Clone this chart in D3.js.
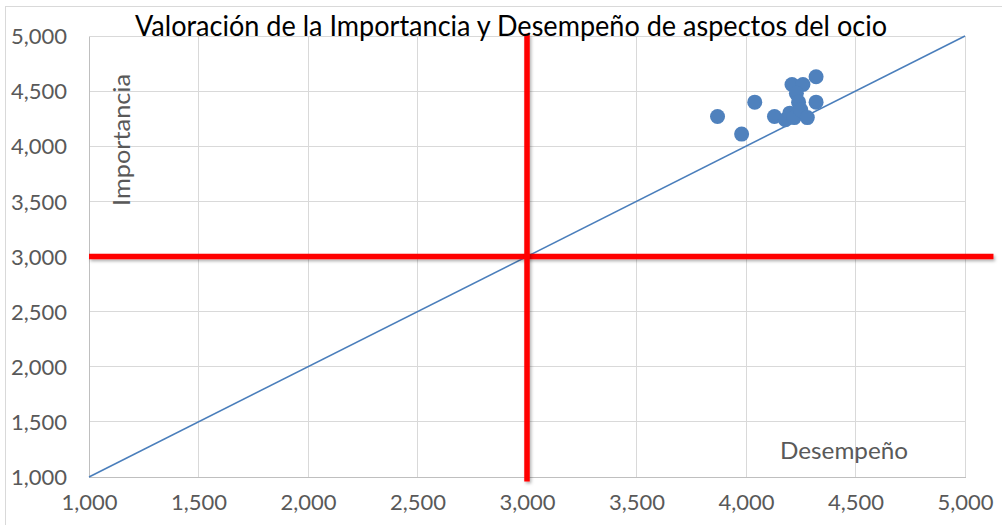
<!DOCTYPE html>
<html lang="es">
<head>
    <meta charset="UTF-8">
    <title>Importancia y Desempeño</title>
    <script src="https://cdn.jsdelivr.net/npm/d3@7"></script>
    <style>
        body { margin: 0; background: #fff; }
        .grid line { stroke: #d9d9d9; stroke-width: 1; shape-rendering: crispEdges; }
        .axis path, .axis line { stroke: #bfbfbf; shape-rendering: crispEdges; }
        .axis text { font-family: Lato, "Open Sans", sans-serif; font-size: 22px; fill: #595959; }
        .lbl { font-family: Lato, "Open Sans", sans-serif; font-size: 24px; fill: #595959; }
    </style>
</head>
<body>
<script>
    var width = 1002, height = 525;
    var svg = d3.select("body").append("svg")
        .attr("width", width)
        .attr("height", height);

    // datos
    var desempeno  = [3.87, 3.98, 4.04, 4.13, 4.18, 4.20, 4.22, 4.21, 4.26, 4.32, 4.23, 4.24, 4.25, 4.28, 4.32];
    var importancia = [4.27, 4.11, 4.40, 4.27, 4.24, 4.30, 4.26, 4.56, 4.56, 4.63, 4.48, 4.40, 4.33, 4.26, 4.40];
    var ticks = [1, 1.5, 2, 2.5, 3, 3.5, 4, 4.5, 5];
    var diagonal = [[1, 1], [5, 5]];
    var lineaV = [[3, 0.96], [3, 5.02]];
    var lineaH = [[1, 3], [5.13, 3]];

    var padding = {left: 89, right: 37, top: 36, bottom: 48};

    var x = d3.scaleLinear().domain([1, 5]).range([padding.left, width - padding.right]);
    var y = d3.scaleLinear().domain([1, 5]).range([height - padding.bottom, padding.top]);
    var fmt = function (d) { return d3.format(".3f")(d).replace(".", ","); };

    // borde del gráfico
    svg.append("rect")
        .attr("x", 5.5).attr("y", 6.5)
        .attr("width", 1010).attr("height", 540)
        .attr("fill", "none").attr("stroke", "#d9d9d9");

    // sombra para las líneas rojas
    var defs = svg.append("defs");
    var f = defs.append("filter").attr("id", "sombra")
        .attr("filterUnits", "userSpaceOnUse")
        .attr("x", 0).attr("y", 0).attr("width", width).attr("height", height);
    f.append("feDropShadow").attr("dx", 1.5).attr("dy", 2).attr("stdDeviation", 1.5)
        .attr("flood-color", "#000").attr("flood-opacity", 0.3);

    // rejilla
    svg.append("g").attr("class", "grid")
        .selectAll("line").data(ticks).enter().append("line")
        .attr("x1", function (d) { return x(d); }).attr("x2", function (d) { return x(d); })
        .attr("y1", y(1)).attr("y2", y(5));
    svg.append("g").attr("class", "grid")
        .selectAll("line").data(ticks).enter().append("line")
        .attr("y1", function (d) { return y(d); }).attr("y2", function (d) { return y(d); })
        .attr("x1", x(1)).attr("x2", x(5));

    // ejes
    var xAxis = d3.axisBottom(x).tickValues(ticks).tickFormat(fmt).tickSize(0).tickPadding(14);
    var yAxis = d3.axisLeft(y).tickValues(ticks).tickFormat(fmt).tickSize(0).tickPadding(22);
    svg.append("g").attr("class", "axis")
        .attr("transform", "translate(0," + y(1) + ")")
        .call(xAxis)
        .selectAll("text").attr("dy", "0.85em");
    svg.append("g").attr("class", "axis")
        .attr("transform", "translate(" + x(1) + ",0)")
        .call(yAxis)
        .selectAll("text").attr("dy", "0.35em");

    var line = d3.line()
        .x(function (d) { return x(d[0]); })
        .y(function (d) { return y(d[1]); });

    // diagonal
    svg.append("path").datum(diagonal)
        .attr("d", line)
        .attr("fill", "none").attr("stroke", "#4a7ebb").attr("stroke-width", 1.5);

    // puntos
    svg.append("g").selectAll("circle")
        .data(desempeno).enter().append("circle")
        .attr("cx", function (d) { return x(d); })
        .attr("cy", function (d, i) { return y(importancia[i]); })
        .attr("r", 7.5)
        .attr("fill", "#4f81bd");

    // líneas rojas
    [lineaH, lineaV].forEach(function (l) {
        svg.append("path").datum(l)
            .attr("d", line)
            .attr("fill", "none").attr("stroke", "#ff0000").attr("stroke-width", 5.5)
            .attr("filter", "url(#sombra)");
    });

    // textos
    svg.append("text")
        .attr("x", 511).attr("y", 36)
        .attr("text-anchor", "middle")
        .attr("textLength", 752).attr("lengthAdjust", "spacingAndGlyphs")
        .style("font-family", "Lato, 'Open Sans', sans-serif")
        .style("font-size", "29px").style("fill", "#000")
        .text("Valoración de la Importancia y Desempeño de aspectos del ocio");

    svg.append("text").attr("class", "lbl")
        .attr("transform", "translate(130,140) rotate(-90)")
        .attr("text-anchor", "middle")
        .attr("textLength", 132).attr("lengthAdjust", "spacingAndGlyphs")
        .text("Importancia");

    svg.append("text").attr("class", "lbl")
        .attr("x", 844).attr("y", 459)
        .attr("text-anchor", "middle")
        .attr("textLength", 128).attr("lengthAdjust", "spacingAndGlyphs")
        .text("Desempeño");
</script>
</body>
</html>
